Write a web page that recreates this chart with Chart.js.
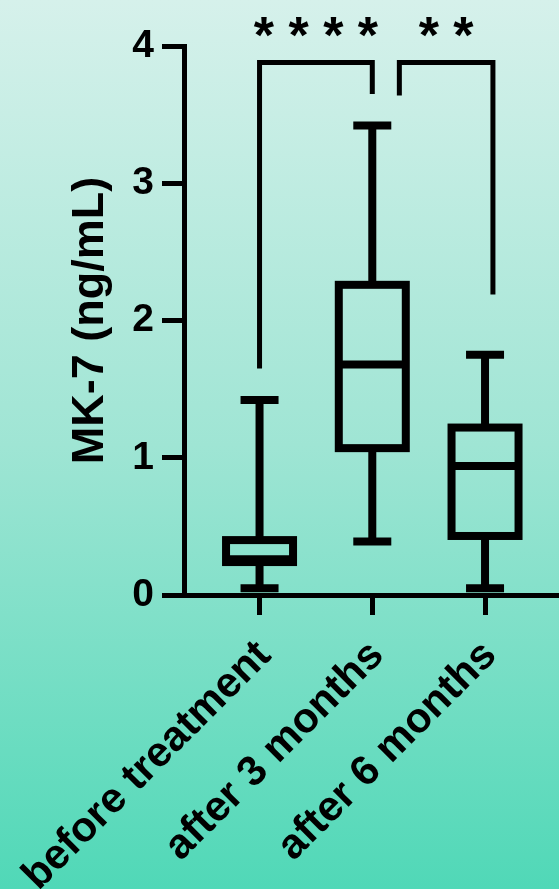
<!DOCTYPE html>
<html>
<head>
<meta charset="utf-8">
<script src="https://cdn.jsdelivr.net/npm/chart.js@4.4.1/dist/chart.umd.min.js"></script>
<style>
  html, body { margin: 0; padding: 0; }
  body {
    width: 559px; height: 889px; overflow: hidden;
    background: linear-gradient(to bottom, #d6f1eb 0%, #9fe5d4 50%, #50d8b7 100%);
  }
  canvas { display: block; }
</style>
</head>
<body>
<canvas id="mk7" width="559" height="889"></canvas>
<script>
const groups = ["before treatment", "after 3 months", "after 6 months"];
const whiskerLow = [0.05, 0.39, 0.05];
const q1 = [0.24, 1.07, 0.43];
const median = [0.26, 1.68, 0.94];
const q3 = [0.40, 2.26, 1.22];
const whiskerHigh = [1.42, 3.42, 1.75];
const yTicks = [0, 1, 2, 3, 4];

// significance brackets (x in group index units, y in ng/mL)
const bracketFrom = [0, 1.24];
const bracketTo = [1, 2.07];
const bracketLeftEnd = [1.65, 3.64];
const bracketRightEnd = [3.65, 2.19];
const bracketTop = 3.88;
const stars = ["* * * *", "* *"];

const FONT = "'Liberation Sans', Arial, sans-serif";

/* ---------- whiskers, box outline, median ---------- */
const boxPlot = {
  id: "boxPlot",
  afterDatasetsDraw(chart) {
    const { ctx, scales: { x, y } } = chart;
    const meta = chart.getDatasetMeta(0);
    ctx.save();
    ctx.strokeStyle = "#000";
    ctx.lineWidth = 8;
    meta.data.forEach((bar, i) => {
      const cx = x.getPixelForValue(i);
      const half = bar.width / 2 - 4;
      const top = y.getPixelForValue(q3[i]);
      const bot = y.getPixelForValue(q1[i]);
      const hi = y.getPixelForValue(whiskerHigh[i]);
      const lo = y.getPixelForValue(whiskerLow[i]);
      const mid = y.getPixelForValue(median[i]);

      ctx.beginPath();
      // whiskers
      ctx.moveTo(cx, hi); ctx.lineTo(cx, top);
      ctx.moveTo(cx, bot); ctx.lineTo(cx, lo);
      // caps
      ctx.moveTo(cx - 19, hi); ctx.lineTo(cx + 19, hi);
      ctx.moveTo(cx - 19, lo); ctx.lineTo(cx + 19, lo);
      // median
      ctx.moveTo(cx - half, mid); ctx.lineTo(cx + half, mid);
      ctx.stroke();

      ctx.lineJoin = "miter";
      ctx.strokeRect(cx - half, top, half * 2, bot - top);
    });
    ctx.restore();
  }
};

/* ---------- significance brackets ---------- */
const brackets = {
  id: "brackets",
  afterDraw(chart) {
    const { ctx, scales: { x, y } } = chart;
    ctx.save();
    ctx.strokeStyle = "#000";
    ctx.fillStyle = "#000";
    ctx.lineWidth = 5;
    ctx.lineJoin = "miter";
    const yt = y.getPixelForValue(bracketTop);
    stars.forEach((s, k) => {
      const xl = x.getPixelForValue(bracketFrom[k]);
      const xr = x.getPixelForValue(bracketTo[k]);
      ctx.beginPath();
      ctx.moveTo(xl, y.getPixelForValue(bracketLeftEnd[k]));
      ctx.lineTo(xl, yt);
      ctx.lineTo(xr, yt);
      ctx.lineTo(xr, y.getPixelForValue(bracketRightEnd[k]));
      ctx.stroke();

      ctx.font = "bold 52px " + FONT;
      ctx.textAlign = "center";
      ctx.textBaseline = "alphabetic";
      ctx.fillText(s, (xl + xr) / 2, yt - 9);
    });
    ctx.restore();
  }
};

new Chart(document.getElementById("mk7"), {
  type: "bar",
  data: {
    datasets: [{
      data: groups.map((g, i) => ({ x: i, y: [q1[i], q3[i]] })),
      backgroundColor: "rgba(0,0,0,0)",
      borderWidth: 0,
      barThickness: 75
    }]
  },
  options: {
    responsive: false,
    animation: false,
    devicePixelRatio: 1,
    layout: { padding: { top: 46, right: 0, bottom: 0, left: 0 } },
    plugins: { legend: { display: false }, tooltip: { enabled: false } },
    scales: {
      x: {
        type: "linear",
        min: -0.67,
        max: 2.656,
        offset: false,
        afterBuildTicks: s => { s.ticks = groups.map((g, i) => ({ value: i })); },
        afterFit: s => { s.height = 294; s.paddingLeft = 0; s.paddingRight = 0; },
        border: { display: true, color: "#000", width: 5 },
        grid: { offset: false, drawOnChartArea: false, color: "#000", lineWidth: 5, tickLength: 20 },
        ticks: {
          autoSkip: false,
          minRotation: 45,
          maxRotation: 45,
          padding: 16,
          labelOffset: 5,
          color: "#000",
          font: { family: FONT, size: 42, weight: "bold" },
          callback: v => groups[v]
        }
      },
      y: {
        min: 0,
        max: 4,
        afterBuildTicks: s => { s.ticks = yTicks.map(v => ({ value: v })); },
        afterFit: s => { s.width = 184; s.paddingTop = 0; s.paddingBottom = 0; },
        border: { display: true, color: "#000", width: 5 },
        grid: { drawOnChartArea: false, color: "#000", lineWidth: 5, tickLength: 22 },
        ticks: {
          padding: 8,
          color: "#000",
          font: { family: FONT, size: 39, weight: "bold" }
        },
        title: {
          display: true,
          text: "MK-7 (ng/mL)",
          color: "#000",
          padding: { top: 64, bottom: 0 },
          font: { family: FONT, size: 45, weight: "bold" }
        }
      }
    }
  },
  plugins: [boxPlot, brackets]
});
</script>
</body>
</html>
